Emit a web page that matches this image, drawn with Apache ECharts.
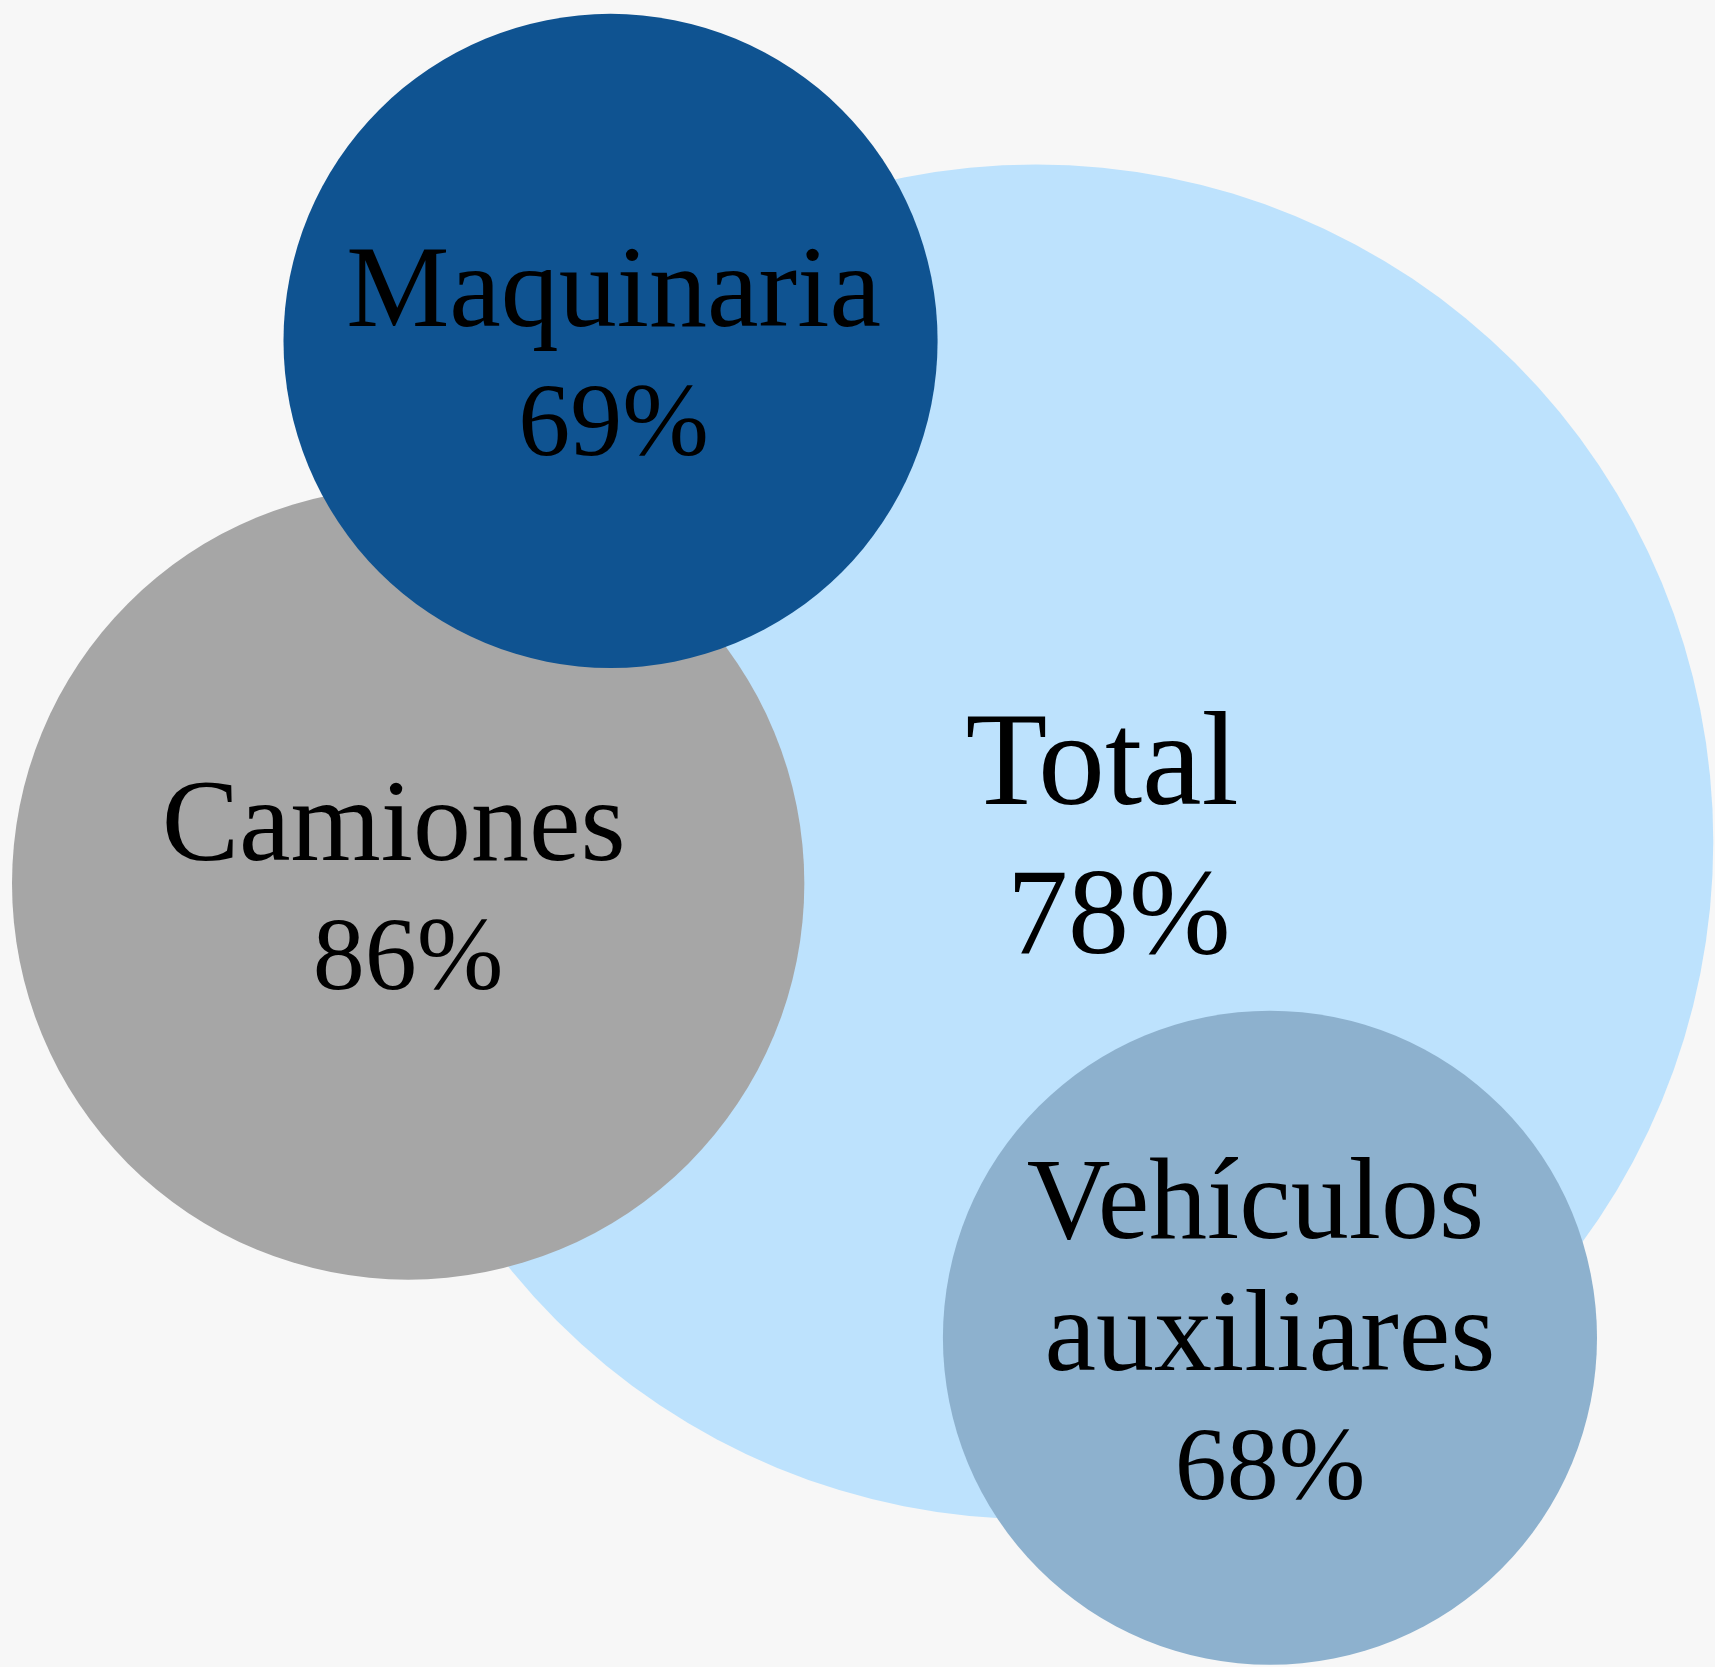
<!DOCTYPE html>
<html>
<head>
<meta charset="utf-8">
<title>Bubbles</title>
<script src="https://cdn.jsdelivr.net/npm/echarts@6/dist/echarts.min.js"></script>
<style>
  html, body { margin: 0; padding: 0; background: #f7f7f7; }
  #chart { width: 1715px; height: 1667px; }
</style>
</head>
<body>
<div id="chart"></div>
<script>
// categories and values (drawing order: back to front)
const categories = ['Total ', 'Camiones ', 'Maquinaria', 'Vehículos \nauxiliares'];
const percentages = [78, 86, 69, 68];
// bubble centres (x: % of width, y: % of height from top) and radius (% of width)
const bubbleX = [60.4, 23.8, 35.6, 74.05];
const bubbleY = [50.5, 53.0, 20.45, 80.25];
const bubbleR = [39.5, 23.1, 19.07, 19.07];

const colors = ['#bde2fd', '#a6a6a6', '#0f5391', '#8db1ce'];
const labelOffsets = [[83, 3], [0, 12], [3, 21], [0, 2]];
const nameSizes = [134, 116, 116, 116];
const pctSizes = [122, 104, 104, 104];
const lineHeights = [152, 132, 132, 132];

const myChart = echarts.init(document.getElementById('chart'));
const width = myChart.getWidth();

const seriesData = categories.map((name, i) => ({
  name: name,
  value: [bubbleX[i], bubbleY[i], bubbleR[i], percentages[i]],
  itemStyle: { color: colors[i], opacity: 1 },
  label: {
    offset: labelOffsets[i],
    fontSize: nameSizes[i],
    lineHeight: lineHeights[i],
    rich: {
      n: { fontSize: nameSizes[i], lineHeight: lineHeights[i], fontFamily: 'Liberation Serif', color: '#000' },
      p: { fontSize: pctSizes[i], lineHeight: lineHeights[i], fontFamily: 'Liberation Serif', color: '#000' }
    }
  }
}));

const option = {
  backgroundColor: '#f7f7f7',
  animation: false,
  grid: { left: 0, right: 0, top: 0, bottom: 0 },
  xAxis: { type: 'value', min: 0, max: 100, show: false },
  yAxis: { type: 'value', min: 0, max: 100, inverse: true, show: false },
  series: [
    {
      type: 'scatter',
      symbol: 'circle',
      symbolSize: function (val) {
        return val[2] * 2 * width / 100; // radius in % of width -> diameter px
      },
      emphasis: { disabled: true },
      label: {
        show: true,
        position: 'inside',
        color: '#000',
        fontFamily: 'Liberation Serif',
        formatter: function (p) {
          const lines = p.name.split('\n').map(s => '{n|' + s + '}');
          return lines.join('\n') + '\n{p|' + p.value[3] + '%}';
        }
      },
      data: seriesData
    }
  ]
};

myChart.setOption(option);
</script>
</body>
</html>
